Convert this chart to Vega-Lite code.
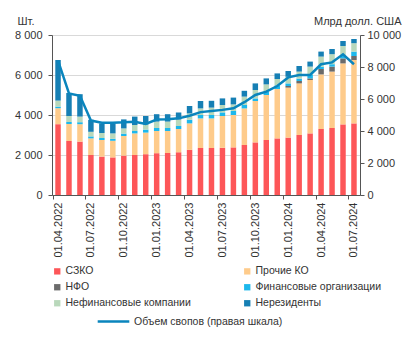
{
  "$schema": "https://vega.github.io/schema/vega-lite/v6.json",
  "width": 308,
  "height": 160,
  "autosize": {"type": "none"},
  "padding": {"left": 52, "top": 35, "right": 54, "bottom": 142},
  "background": "white",
  "config": {
    "font": "Liberation Sans",
    "view": {"stroke": null},
    "axis": {"labelFont": "Liberation Sans", "labelFontSize": 11, "labelColor": "#333333", "domainColor": "#555555", "tickColor": "#555555", "titleFont": "Liberation Sans", "titleFontSize": 11, "titleFontWeight": "normal", "titleColor": "#333333"},
    "legend": {"labelFont": "Liberation Sans", "labelFontSize": 10.5, "labelColor": "#333333"}
  },
  "datasets": {
    "order": [
      {"cat": "СЗКО", "k": 1},
      {"cat": "Прочие КО", "k": 2},
      {"cat": "НФО", "k": 3},
      {"cat": "Финансовые организации", "k": 4},
      {"cat": "Нефинансовые компании", "k": 5},
      {"cat": "Нерезиденты", "k": 6}
    ]
  },
  "data": {
    "values": [
      {"d": "01.04.2022", "СЗКО": 3540, "Прочие КО": 800, "НФО": 0, "Финансовые организации": 80, "Нефинансовые компании": 300, "Нерезиденты": 2030, "swap": 8400},
      {"d": "01.05.2022", "СЗКО": 2700, "Прочие КО": 850, "НФО": 0, "Финансовые организации": 100, "Нефинансовые компании": 300, "Нерезиденты": 1150, "swap": 6350},
      {"d": "01.06.2022", "СЗКО": 2670, "Прочие КО": 870, "НФО": 0, "Финансовые организации": 100, "Нефинансовые компании": 280, "Нерезиденты": 1120, "swap": 6200},
      {"d": "01.07.2022", "СЗКО": 2000, "Прочие КО": 830, "НФО": 0, "Финансовые организации": 100, "Нефинансовые компании": 230, "Нерезиденты": 600, "swap": 4650},
      {"d": "01.08.2022", "СЗКО": 1920, "Прочие КО": 830, "НФО": 0, "Финансовые организации": 100, "Нефинансовые компании": 250, "Нерезиденты": 480, "swap": 4520},
      {"d": "01.09.2022", "СЗКО": 1880, "Прочие КО": 830, "НФО": 0, "Финансовые организации": 100, "Нефинансовые компании": 270, "Нерезиденты": 500, "swap": 4520},
      {"d": "01.10.2022", "СЗКО": 1970, "Прочие КО": 980, "НФО": 0, "Финансовые организации": 120, "Нефинансовые компании": 260, "Нерезиденты": 450, "swap": 4540},
      {"d": "01.11.2022", "СЗКО": 2000, "Прочие КО": 1080, "НФО": 0, "Финансовые организации": 120, "Нефинансовые компании": 300, "Нерезиденты": 420, "swap": 4580},
      {"d": "01.12.2022", "СЗКО": 2040, "Прочие КО": 1080, "НФО": 0, "Финансовые организации": 150, "Нефинансовые компании": 250, "Нерезиденты": 430, "swap": 4440},
      {"d": "01.01.2023", "СЗКО": 2090, "Прочие КО": 1110, "НФО": 0, "Финансовые организации": 150, "Нефинансовые компании": 320, "Нерезиденты": 370, "swap": 4720},
      {"d": "01.02.2023", "СЗКО": 2100, "Прочие КО": 1100, "НФО": 0, "Финансовые организации": 150, "Нефинансовые компании": 320, "Нерезиденты": 370, "swap": 4730},
      {"d": "01.03.2023", "СЗКО": 2140, "Прочие КО": 1160, "НФО": 0, "Финансовые организации": 150, "Нефинансовые компании": 330, "Нерезиденты": 350, "swap": 4790},
      {"d": "01.04.2023", "СЗКО": 2260, "Прочие КО": 1320, "НФО": 0, "Финансовые организации": 180, "Нефинансовые компании": 320, "Нерезиденты": 370, "swap": 4950},
      {"d": "01.05.2023", "СЗКО": 2350, "Прочие КО": 1480, "НФО": 0, "Финансовые организации": 170, "Нефинансовые компании": 330, "Нерезиденты": 370, "swap": 5180},
      {"d": "01.06.2023", "СЗКО": 2350, "Прочие КО": 1480, "НФО": 0, "Финансовые организации": 170, "Нефинансовые компании": 370, "Нерезиденты": 340, "swap": 5250},
      {"d": "01.07.2023", "СЗКО": 2360, "Прочие КО": 1590, "НФО": 0, "Финансовые организации": 180, "Нефинансовые компании": 370, "Нерезиденты": 330, "swap": 5320},
      {"d": "01.08.2023", "СЗКО": 2380, "Прочие КО": 1620, "НФО": 0, "Финансовые организации": 200, "Нефинансовые компании": 330, "Нерезиденты": 340, "swap": 5420},
      {"d": "01.09.2023", "СЗКО": 2500, "Прочие КО": 1830, "НФО": 0, "Финансовые организации": 170, "Нефинансовые компании": 420, "Нерезиденты": 290, "swap": 5800},
      {"d": "01.10.2023", "СЗКО": 2630, "Прочие КО": 2070, "НФО": 0, "Финансовые организации": 130, "Нефинансовые компании": 420, "Нерезиденты": 330, "swap": 6250},
      {"d": "01.11.2023", "СЗКО": 2750, "Прочие КО": 2250, "НФО": 0, "Финансовые организации": 150, "Нефинансовые компании": 380, "Нерезиденты": 300, "swap": 6460},
      {"d": "01.12.2023", "СЗКО": 2830, "Прочие КО": 2470, "НФО": 0, "Финансовые организации": 180, "Нефинансовые компании": 320, "Нерезиденты": 280, "swap": 6810},
      {"d": "01.01.2024", "СЗКО": 2870, "Прочие КО": 2500, "НФО": 80, "Финансовые организации": 130, "Нефинансовые компании": 330, "Нерезиденты": 290, "swap": 7350},
      {"d": "01.02.2024", "СЗКО": 3000, "Прочие КО": 2580, "НФО": 120, "Финансовые организации": 120, "Нефинансовые компании": 350, "Нерезиденты": 280, "swap": 7500},
      {"d": "01.03.2024", "СЗКО": 3080, "Прочие КО": 2670, "НФО": 80, "Финансовые организации": 170, "Нефинансовые компании": 420, "Нерезиденты": 250, "swap": 7500},
      {"d": "01.04.2024", "СЗКО": 3300, "Прочие КО": 2730, "НФО": 270, "Финансовые организации": 120, "Нефинансовые компании": 500, "Нерезиденты": 250, "swap": 8170},
      {"d": "01.05.2024", "СЗКО": 3350, "Прочие КО": 2820, "НФО": 250, "Финансовые организации": 120, "Нефинансовые компании": 500, "Нерезиденты": 260, "swap": 8290},
      {"d": "01.06.2024", "СЗКО": 3530, "Прочие КО": 3050, "НФО": 250, "Финансовые организации": 150, "Нефинансовые компании": 470, "Нерезиденты": 250, "swap": 8790},
      {"d": "01.07.2024", "СЗКО": 3580, "Прочие КО": 3170, "НФО": 200, "Финансовые организации": 220, "Нефинансовые компании": 420, "Нерезиденты": 210, "swap": 8170}
    ]
  },
  "encoding": {
    "x": {
      "field": "d",
      "type": "ordinal",
      "sort": null,
      "scale": {"paddingInner": 0.5, "paddingOuter": 0.3},
      "axis": {
        "title": null,
        "values": ["01.04.2022", "01.07.2022", "01.10.2022", "01.01.2023", "01.04.2023", "01.07.2023", "01.10.2023", "01.01.2024", "01.04.2024", "01.07.2024"],
        "labelAngle": -90,
        "tickOffset": -5.5,
        "labelOffset": 5.5,
        "tickSize": 4,
        "labelPadding": 3,
        "domainColor": "#555555"
      }
    }
  },
  "layer": [
    {
      "transform": [
        {"fold": ["СЗКО", "Прочие КО", "НФО", "Финансовые организации", "Нефинансовые компании", "Нерезиденты"], "as": ["cat", "val"]},
        {"lookup": "cat", "from": {"data": {"name": "order"}, "key": "cat", "fields": ["k"]}}
      ],
      "mark": {"type": "bar"},
      "encoding": {
        "y": {
          "field": "val",
          "type": "quantitative",
          "stack": "zero",
          "scale": {"domain": [0, 8000], "nice": false},
          "axis": {
            "values": [0, 2000, 4000, 6000, 8000],
            "grid": true,
            "gridColor": "#d9d9d9",
            "tickSize": 4,
            "labelPadding": 6,
            "labelExpr": "replace(format(datum.value, ','), ',', ' ')",
            "title": "Шт.",
            "titleAngle": 0,
            "titleAlign": "left",
            "titleBaseline": "middle",
            "titleX": -35,
            "titleY": -14
          }
        },
        "order": {"field": "k", "type": "quantitative", "sort": "ascending"},
        "color": {
          "field": "cat",
          "type": "nominal",
          "scale": {
            "domain": ["СЗКО", "НФО", "Нефинансовые компании", "Прочие КО", "Финансовые организации", "Нерезиденты"],
            "range": ["#fd5658", "#6b6b6b", "#b9d8bb", "#fecb8b", "#1db8ec", "#167fb4"]
          },
          "legend": {
            "title": null,
            "orient": "none",
            "legendX": 0,
            "legendY": 231,
            "columns": 2,
            "columnPadding": 51,
            "rowPadding": 5,
            "symbolType": "square",
            "symbolSize": 40,
            "symbolStrokeWidth": 0,
            "labelOffset": 3,
            "padding": 0
          }
        }
      }
    },
    {
      "mark": {"type": "line", "strokeWidth": 2.5},
      "encoding": {
        "y": {
          "field": "swap",
          "type": "quantitative",
          "scale": {"domain": [0, 10000], "nice": false},
          "axis": {
            "orient": "right",
            "values": [0, 2000, 4000, 6000, 8000, 10000],
            "grid": false,
            "tickSize": 4,
            "labelPadding": 3,
            "labelExpr": "replace(format(datum.value, ','), ',', ' ')",
            "title": "Млрд долл. США",
            "titleAngle": 0,
            "titleAlign": "right",
            "titleBaseline": "middle",
            "titleX": 41,
            "titleY": -14
          }
        },
        "stroke": {
          "datum": "Объем свопов (правая шкала)",
          "type": "nominal",
          "scale": {"range": ["#0a85bd"]},
          "legend": {
            "title": null,
            "orient": "none",
            "legendX": 44,
            "legendY": 269,
            "symbolType": "stroke",
            "symbolSize": 1000,
            "symbolStrokeWidth": 2.5,
            "labelOffset": 3,
            "padding": 0
          }
        }
      }
    }
  ],
  "resolve": {"scale": {"y": "independent"}}
}
